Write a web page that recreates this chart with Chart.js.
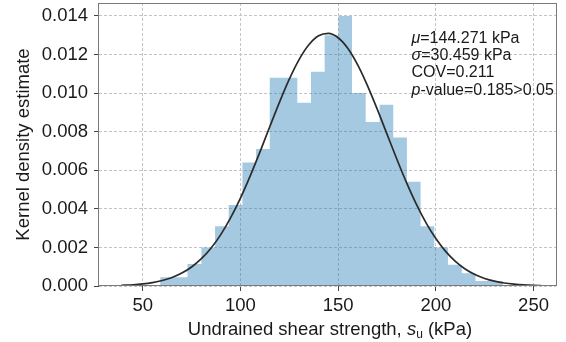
<!DOCTYPE html>
<html>
<head>
<meta charset="utf-8">
<script src="https://cdn.jsdelivr.net/npm/chart.js"></script>
<style>
html,body{margin:0;padding:0;background:#fff}
</style>
</head>
<body>
<canvas id="kde" width="566" height="342"></canvas>
<script>
// histogram bin edges (kPa) and density of each bin
const binEdges = [58.9, 65.9, 72.9, 80.0, 87.0, 94.0, 101.0, 108.0, 115.0, 122.0, 129.1, 136.1, 143.1,
  150.1, 157.1, 164.1, 171.2, 178.2, 185.2, 192.2, 199.2, 206.2, 213.3, 220.3, 227.3, 234.3]
const binDensity = [0.00045, 0.00045, 0.00114, 0.0020, 0.0031, 0.0042, 0.0064, 0.0071, 0.0108, 0.0108,
  0.0095, 0.0111, 0.0130, 0.0140, 0.0100, 0.0085, 0.0094, 0.0077, 0.0054, 0.0031, 0.0020, 0.0011,
  0.00066, 0.00026, 0.00026]

// fitted curve, sampled off the figure
const curveX = [39, 45, 50, 55, 60, 65, 70, 75, 80, 85, 90, 95, 100, 105, 110, 115, 120, 125, 130, 135,
  140, 145, 150, 155, 160, 165, 170, 175, 180, 185, 190, 195, 200, 205, 210, 215, 220, 225, 230, 235,
  240, 245, 250, 254]
const curveY = [0.000034, 0.000065, 0.000109, 0.000179, 0.000285, 0.000443, 0.00067, 0.000986, 0.001414,
  0.001972, 0.002678, 0.00354, 0.004555, 0.005705, 0.006955, 0.008254, 0.009535, 0.010722, 0.011736,
  0.012505, 0.01297, 0.013094, 0.012868, 0.01231, 0.011463, 0.01039, 0.009168, 0.007874, 0.006583,
  0.005357, 0.004244, 0.003273, 0.002457, 0.001795, 0.001277, 0.000884, 0.000596, 0.000391, 0.00025,
  0.000155, 0.000094, 0.000055, 0.000032, 0.00002]

const statLines = [
  [["μ", true], ["=144.271 kPa", false]],
  [["σ", true], ["=30.459 kPa", false]],
  [["COV=0.211", false]],
  [["p", true], ["-value=0.185>0.05", false]]
]

const FONT = "'Liberation Sans', Arial, sans-serif"

let histPts = binDensity.map((d, i) => ({x: binEdges[i], y: d}))
histPts.push({x: binEdges[binEdges.length - 1], y: binDensity[binDensity.length - 1]})

let curvePts = curveX.map((x, i) => ({x: x, y: curveY[i]}))

function drawRuns(ctx, runs, x, y, align){
  let total = 0
  runs.forEach(r => { ctx.font = r.font; total += ctx.measureText(r.text).width })
  let cx = align === "center" ? x - total / 2 : x
  runs.forEach(r => {
    ctx.font = r.font
    ctx.fillText(r.text, cx, y + (r.dy || 0))
    cx += ctx.measureText(r.text).width
  })
}

// no extra room for edge tick labels, the plot box is fixed
function noPad(s){
  s.paddingTop = 0
  s.paddingBottom = 0
  s.paddingLeft = 0
  s.paddingRight = 0
}

const decor = {
  id: "decor",
  afterDatasetsDraw(chart){
    let a = chart.chartArea
    let ctx = chart.ctx
    ctx.save()
    ctx.strokeStyle = "#7a7a7a"
    ctx.lineWidth = 1
    ctx.strokeRect(Math.round(a.left) - 0.5, Math.round(a.top) + 0.5,
      Math.round(a.right - a.left) + 1, Math.round(a.bottom - a.top) - 1)
    ctx.restore()
  },
  afterDraw(chart){
    let a = chart.chartArea
    let ctx = chart.ctx
    ctx.save()
    ctx.fillStyle = "#1a1a1a"
    ctx.textBaseline = "alphabetic"
    ctx.textAlign = "left"

    // x axis title
    drawRuns(ctx, [
      {text: "Undrained shear strength, ", font: "18.5px " + FONT},
      {text: "s", font: "italic 18.5px " + FONT},
      {text: "u", font: "12px " + FONT, dy: 3},
      {text: " (kPa)", font: "18.5px " + FONT}
    ], 330, 335, "center")

    // y axis title
    ctx.save()
    ctx.translate(29, (a.top + a.bottom) / 2)
    ctx.rotate(-Math.PI / 2)
    drawRuns(ctx, [{text: "Kernel density estimate", font: "18.5px " + FONT}], 0, 0, "center")
    ctx.restore()

    // statistics box
    statLines.forEach((line, i) => {
      drawRuns(ctx, line.map(p => ({text: p[0], font: (p[1] ? "italic " : "") + "16px " + FONT})),
        411.5, 43 + i * 17.2, "left")
    })
    ctx.restore()
  }
}

new Chart(document.getElementById("kde"), {
  type: "line",
  data: {
    datasets: [
      {
        label: "fit",
        data: curvePts,
        borderColor: "#2b2b2b",
        borderWidth: 1.7,
        pointRadius: 0,
        cubicInterpolationMode: "monotone",
        fill: false
      },
      {
        label: "histogram",
        data: histPts,
        stepped: "before",
        borderWidth: 0,
        borderColor: "rgba(0,0,0,0)",
        backgroundColor: "rgba(31,119,180,0.4)",
        pointRadius: 0,
        fill: "origin"
      }
    ]
  },
  plugins: [decor],
  options: {
    responsive: false,
    animation: false,
    layout: {padding: {left: 0, top: 3, right: 10, bottom: 0}},
    plugins: {legend: {display: false}, tooltip: {enabled: false}},
    scales: {
      x: {
        type: "linear",
        min: 27.6,
        max: 261.5,
        afterFit(s){ s.height = 56; noPad(s) },
        ticks: {stepSize: 50, includeBounds: false, padding: 4, color: "#1a1a1a",
          font: {family: FONT, size: 18.5}, maxRotation: 0},
        grid: {color: "#c4c4c4", lineWidth: 1, tickColor: "#444", tickLength: 5, tickBorderDash: []},
        border: {display: false, dash: [3, 2]}
      },
      y: {
        min: 0,
        max: 0.01467,
        afterFit(s){ s.width = 99; noPad(s) },
        ticks: {stepSize: 0.002, includeBounds: false, padding: 6, color: "#1a1a1a",
          font: {family: FONT, size: 18.5}, callback: v => v.toFixed(3)},
        grid: {color: "#c4c4c4", lineWidth: 1, tickColor: "#444", tickLength: 5, tickBorderDash: []},
        border: {display: false, dash: [3, 2]}
      }
    }
  }
})
</script>
</body>
</html>
